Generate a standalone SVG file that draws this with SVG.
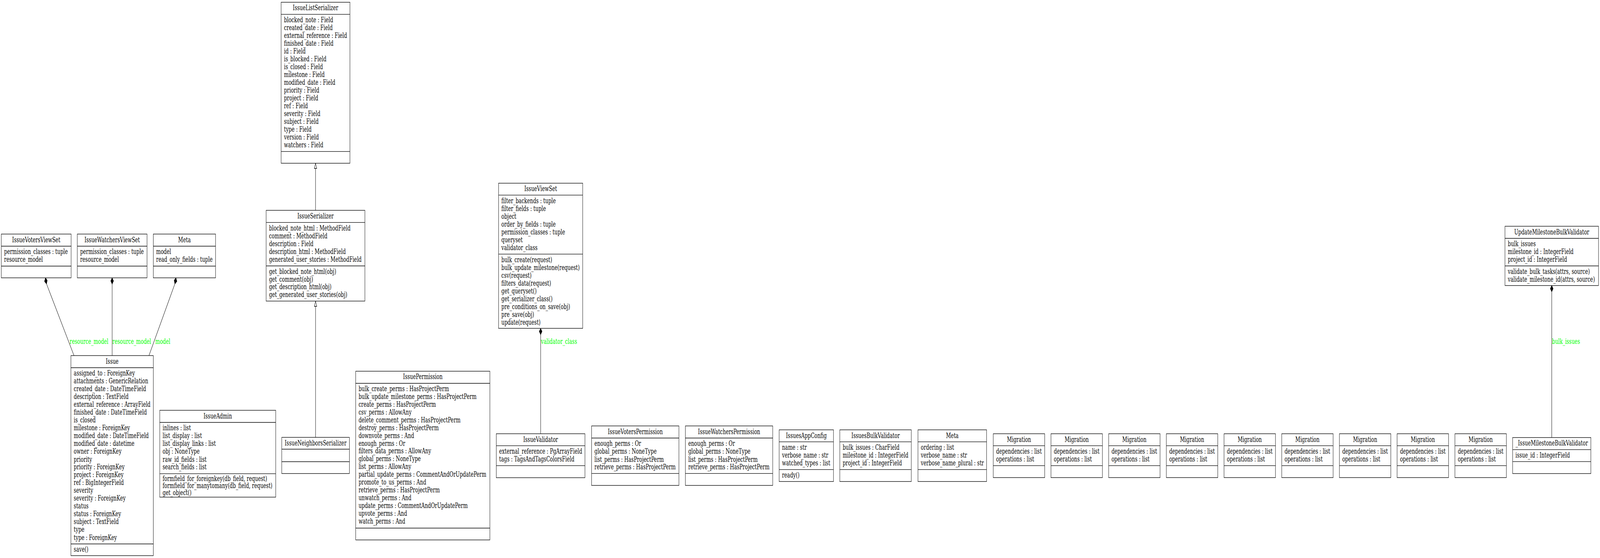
<svg xmlns="http://www.w3.org/2000/svg" width="6209" height="1428" viewBox="0 0 6209 1428" preserveAspectRatio="none">
<style>
svg{width:100vw;height:100vh}
text{font-family:"DejaVu Serif","Liberation Serif",serif;font-size:18.67px;fill:#000}
.t{text-anchor:middle}
.lbl{fill:#00ff00}
.box{fill:#fff;stroke:#000;stroke-width:1.33}
.sep{stroke:#000;stroke-width:1.33}
.edge{fill:none;stroke:#000;stroke-width:1.33}
.dia{fill:#000;stroke:#000;stroke-width:1.33}
.tri{fill:#fff;stroke:#000;stroke-width:1.33}
</style>
<rect width="6209" height="1428" fill="#fff"/>

<g id="connectors">
  <path class="edge" d="M1224.5,538.3 V431"/>
  <polygon class="tri" points="1224.5,417.7 1219.8,431 1229.2,431"/>
  <path class="edge" d="M1224.6,1119.3 V784"/>
  <polygon class="tri" points="1224.6,770.5 1219.9,784 1229.3,784"/>
  <polygon class="dia" points="176.5,711 183.2,717.4 180.5,726.5 172.8,720.1"/>
  <path class="edge" d="M180.5,726.5 L287.2,910"/>
  <polygon class="dia" points="435.2,711 440.5,719 435.2,727 429.9,719"/>
  <path class="edge" d="M435.2,727 V910"/>
  <polygon class="dia" points="682.7,711 686.4,720.1 678.6,726.5 676,717.4"/>
  <path class="edge" d="M678.6,726.5 L578,910"/>
  <polygon class="dia" points="2098,840.3 2103.3,848.3 2098,856.3 2092.7,848.3"/>
  <path class="edge" d="M2098,856.3 V1110"/>
  <polygon class="dia" points="6021.7,730.7 6027,738.7 6021.7,746.7 6016.4,738.7"/>
  <path class="edge" d="M6021.7,746.7 V1119.7"/>
  <text class="lbl" x="270.4" y="880">resource_model</text>
  <text class="lbl" x="436" y="880">resource_model</text>
  <text class="lbl" x="603" y="880">model</text>
  <text class="lbl" x="2099" y="880">validator_class</text>
  <text class="lbl" x="6023" y="880">bulk_issues</text>
</g>

<g id="IssueVotersViewSet">
  <rect class="box" x="5" y="599" width="271" height="112"/>
  <line class="sep" x1="5" y1="630" x2="276" y2="630"/>
  <line class="sep" x1="5" y1="681" x2="276" y2="681"/>
  <text class="t" x="140.5" y="620">IssueVotersViewSet</text>
  <text x="16" y="650.5">permission_classes : tuple</text>
  <text x="16" y="670.5">resource_model</text>
</g>

<g id="IssueWatchersViewSet">
  <rect class="box" x="300" y="599" width="270.5" height="112"/>
  <line class="sep" x1="300" y1="630" x2="570.5" y2="630"/>
  <line class="sep" x1="300" y1="681" x2="570.5" y2="681"/>
  <text class="t" x="435.25" y="620">IssueWatchersViewSet</text>
  <text x="311" y="650.5">permission_classes : tuple</text>
  <text x="311" y="670.5">resource_model</text>
</g>

<g id="Meta1">
  <rect class="box" x="595" y="599" width="241.5" height="112"/>
  <line class="sep" x1="595" y1="630" x2="836.5" y2="630"/>
  <line class="sep" x1="595" y1="681" x2="836.5" y2="681"/>
  <text class="t" x="715.75" y="620">Meta</text>
  <text x="606" y="650.5">model</text>
  <text x="606" y="670.5">read_only_fields : tuple</text>
</g>

<g id="Issue">
  <rect class="box" x="275.3" y="910" width="319.7" height="512"/>
  <line class="sep" x1="275.3" y1="941" x2="595" y2="941"/>
  <line class="sep" x1="275.3" y1="1392" x2="595" y2="1392"/>
  <text class="t" x="435.15" y="931">Issue</text>
  <text x="286.3" y="961.5">assigned_to : ForeignKey</text>
  <text x="286.3" y="981.5">attachments : GenericRelation</text>
  <text x="286.3" y="1001.5">created_date : DateTimeField</text>
  <text x="286.3" y="1021.5">description : TextField</text>
  <text x="286.3" y="1041.5">external_reference : ArrayField</text>
  <text x="286.3" y="1061.5">finished_date : DateTimeField</text>
  <text x="286.3" y="1081.5">is_closed</text>
  <text x="286.3" y="1101.5">milestone : ForeignKey</text>
  <text x="286.3" y="1121.5">modified_date : DateTimeField</text>
  <text x="286.3" y="1141.5">modified_date : datetime</text>
  <text x="286.3" y="1161.5">owner : ForeignKey</text>
  <text x="286.3" y="1181.5">priority</text>
  <text x="286.3" y="1201.5">priority : ForeignKey</text>
  <text x="286.3" y="1221.5">project : ForeignKey</text>
  <text x="286.3" y="1241.5">ref : BigIntegerField</text>
  <text x="286.3" y="1261.5">severity</text>
  <text x="286.3" y="1281.5">severity : ForeignKey</text>
  <text x="286.3" y="1301.5">status</text>
  <text x="286.3" y="1321.5">status : ForeignKey</text>
  <text x="286.3" y="1341.5">subject : TextField</text>
  <text x="286.3" y="1361.5">type</text>
  <text x="286.3" y="1381.5">type : ForeignKey</text>
  <text x="286.3" y="1412.5">save()</text>
</g>

<g id="IssueAdmin">
  <rect class="box" x="620" y="1050" width="450" height="222.3"/>
  <line class="sep" x1="620" y1="1081" x2="1070" y2="1081"/>
  <line class="sep" x1="620" y1="1212.3" x2="1070" y2="1212.3"/>
  <text class="t" x="845" y="1071">IssueAdmin</text>
  <text x="631" y="1101.5">inlines : list</text>
  <text x="631" y="1121.5">list_display : list</text>
  <text x="631" y="1141.5">list_display_links : list</text>
  <text x="631" y="1161.5">obj : NoneType</text>
  <text x="631" y="1181.5">raw_id_fields : list</text>
  <text x="631" y="1201.5">search_fields : list</text>
  <text x="631" y="1231.5">formfield_for_foreignkey(db_field, request)</text>
  <text x="631" y="1249.5">formfield_for_manytomany(db_field, request)</text>
  <text x="631" y="1267.5">get_object()</text>
</g>

<g id="IssueNeighborsSerializer">
  <rect class="box" x="1093.3" y="1119.3" width="262.7" height="92.5"/>
  <line class="sep" x1="1093.3" y1="1149.5" x2="1356" y2="1149.5"/>
  <line class="sep" x1="1093.3" y1="1181.5" x2="1356" y2="1181.5"/>
  <text class="t" x="1224.65" y="1140">IssueNeighborsSerializer</text>
</g>

<g id="IssueListSerializer">
  <rect class="box" x="1091" y="5.7" width="267" height="412"/>
  <line class="sep" x1="1091" y1="36.7" x2="1358" y2="36.7"/>
  <line class="sep" x1="1091" y1="387.7" x2="1358" y2="387.7"/>
  <text class="t" x="1224.5" y="26.5">IssueListSerializer</text>
  <text x="1102" y="57">blocked_note : Field</text>
  <text x="1102" y="77">created_date : Field</text>
  <text x="1102" y="97">external_reference : Field</text>
  <text x="1102" y="117">finished_date : Field</text>
  <text x="1102" y="137">id : Field</text>
  <text x="1102" y="157">is_blocked : Field</text>
  <text x="1102" y="177">is_closed : Field</text>
  <text x="1102" y="197">milestone : Field</text>
  <text x="1102" y="217">modified_date : Field</text>
  <text x="1102" y="237">priority : Field</text>
  <text x="1102" y="257">project : Field</text>
  <text x="1102" y="277">ref : Field</text>
  <text x="1102" y="297">severity : Field</text>
  <text x="1102" y="317">subject : Field</text>
  <text x="1102" y="337">type : Field</text>
  <text x="1102" y="357">version : Field</text>
  <text x="1102" y="377">watchers : Field</text>
</g>

<g id="IssueSerializer">
  <rect class="box" x="1032.7" y="538.3" width="383.3" height="232.2"/>
  <line class="sep" x1="1032.7" y1="569.3" x2="1416" y2="569.3"/>
  <line class="sep" x1="1032.7" y1="680.5" x2="1416" y2="680.5"/>
  <text class="t" x="1224.35" y="559.3">IssueSerializer</text>
  <text x="1044" y="590">blocked_note_html : MethodField</text>
  <text x="1044" y="610">comment : MethodField</text>
  <text x="1044" y="630">description : Field</text>
  <text x="1044" y="650">description_html : MethodField</text>
  <text x="1044" y="670">generated_user_stories : MethodField</text>
  <text x="1044" y="701.2">get_blocked_note_html(obj)</text>
  <text x="1044" y="720.7">get_comment(obj)</text>
  <text x="1044" y="740.2">get_description_html(obj)</text>
  <text x="1044" y="759.7">get_generated_user_stories(obj)</text>
</g>

<g id="IssuePermission">
  <rect class="box" x="1380.4" y="950" width="520.6" height="431.7"/>
  <line class="sep" x1="1380.4" y1="981" x2="1901" y2="981"/>
  <line class="sep" x1="1380.4" y1="1351.5" x2="1901" y2="1351.5"/>
  <text class="t" x="1640.7" y="970.5">IssuePermission</text>
  <text x="1391.4" y="1001">bulk_create_perms : HasProjectPerm</text>
  <text x="1391.4" y="1020.9">bulk_update_milestone_perms : HasProjectPerm</text>
  <text x="1391.4" y="1040.9">create_perms : HasProjectPerm</text>
  <text x="1391.4" y="1060.8">csv_perms : AllowAny</text>
  <text x="1391.4" y="1080.8">delete_comment_perms : HasProjectPerm</text>
  <text x="1391.4" y="1100.7">destroy_perms : HasProjectPerm</text>
  <text x="1391.4" y="1120.6">downvote_perms : And</text>
  <text x="1391.4" y="1140.6">enough_perms : Or</text>
  <text x="1391.4" y="1160.5">filters_data_perms : AllowAny</text>
  <text x="1391.4" y="1180.5">global_perms : NoneType</text>
  <text x="1391.4" y="1200.4">list_perms : AllowAny</text>
  <text x="1391.4" y="1220.3">partial_update_perms : CommentAndOrUpdatePerm</text>
  <text x="1391.4" y="1240.3">promote_to_us_perms : And</text>
  <text x="1391.4" y="1260.2">retrieve_perms : HasProjectPerm</text>
  <text x="1391.4" y="1280.2">unwatch_perms : And</text>
  <text x="1391.4" y="1300.1">update_perms : CommentAndOrUpdatePerm</text>
  <text x="1391.4" y="1320">upvote_perms : And</text>
  <text x="1391.4" y="1340">watch_perms : And</text>
</g>

<g id="IssueViewSet">
  <rect class="box" x="1934.7" y="468.8" width="326.6" height="371.5"/>
  <line class="sep" x1="1934.7" y1="499.3" x2="2261.3" y2="499.3"/>
  <line class="sep" x1="1934.7" y1="650.3" x2="2261.3" y2="650.3"/>
  <text class="t" x="2098" y="489.5">IssueViewSet</text>
  <text x="1945.7" y="519.8">filter_backends : tuple</text>
  <text x="1945.7" y="539.8">filter_fields : tuple</text>
  <text x="1945.7" y="559.8">object</text>
  <text x="1945.7" y="579.8">order_by_fields : tuple</text>
  <text x="1945.7" y="599.8">permission_classes : tuple</text>
  <text x="1945.7" y="619.8">queryset</text>
  <text x="1945.7" y="639.8">validator_class</text>
  <text x="1945.7" y="670.8">bulk_create(request)</text>
  <text x="1945.7" y="690.8">bulk_update_milestone(request)</text>
  <text x="1945.7" y="710.8">csv(request)</text>
  <text x="1945.7" y="730.8">filters_data(request)</text>
  <text x="1945.7" y="750.8">get_queryset()</text>
  <text x="1945.7" y="770.8">get_serializer_class()</text>
  <text x="1945.7" y="790.8">pre_conditions_on_save(obj)</text>
  <text x="1945.7" y="810.8">pre_save(obj)</text>
  <text x="1945.7" y="830.8">update(request)</text>
</g>

<g id="IssueValidator">
  <rect class="box" x="1925.9" y="1110" width="344" height="112.5"/>
  <line class="sep" x1="1925.9" y1="1140.7" x2="2269.9" y2="1140.7"/>
  <line class="sep" x1="1925.9" y1="1191.7" x2="2269.9" y2="1191.7"/>
  <text class="t" x="2097.9" y="1130.7">IssueValidator</text>
  <text x="1936.9" y="1161.2">external_reference : PgArrayField</text>
  <text x="1936.9" y="1181.2">tags : TagsAndTagsColorsField</text>
</g>

<g id="IssueVotersPermission">
  <rect class="box" x="2295.8" y="1090" width="338.8" height="152.3"/>
  <line class="sep" x1="2295.8" y1="1121" x2="2634.6" y2="1121"/>
  <line class="sep" x1="2295.8" y1="1211.7" x2="2634.6" y2="1211.7"/>
  <text class="t" x="2465.2" y="1111">IssueVotersPermission</text>
  <text x="2306.8" y="1141.5">enough_perms : Or</text>
  <text x="2306.8" y="1161.5">global_perms : NoneType</text>
  <text x="2306.8" y="1181.5">list_perms : HasProjectPerm</text>
  <text x="2306.8" y="1201.5">retrieve_perms : HasProjectPerm</text>
</g>

<g id="IssueWatchersPermission">
  <rect class="box" x="2659.8" y="1090" width="338.8" height="152.3"/>
  <line class="sep" x1="2659.8" y1="1121" x2="2998.6" y2="1121"/>
  <line class="sep" x1="2659.8" y1="1211.7" x2="2998.6" y2="1211.7"/>
  <text class="t" x="2829.2" y="1111">IssueWatchersPermission</text>
  <text x="2670.8" y="1141.5">enough_perms : Or</text>
  <text x="2670.8" y="1161.5">global_perms : NoneType</text>
  <text x="2670.8" y="1181.5">list_perms : HasProjectPerm</text>
  <text x="2670.8" y="1201.5">retrieve_perms : HasProjectPerm</text>
</g>

<g id="IssuesAppConfig">
  <rect class="box" x="3023.7" y="1100" width="210.8" height="132.3"/>
  <line class="sep" x1="3023.7" y1="1130.7" x2="3234.5" y2="1130.7"/>
  <line class="sep" x1="3023.7" y1="1201.7" x2="3234.5" y2="1201.7"/>
  <text class="t" x="3129.1" y="1121">IssuesAppConfig</text>
  <text x="3034.7" y="1151.2">name : str</text>
  <text x="3034.7" y="1171.2">verbose_name : str</text>
  <text x="3034.7" y="1191.2">watched_types : list</text>
  <text x="3034.7" y="1222.2">ready()</text>
</g>

<g id="IssuesBulkValidator">
  <rect class="box" x="3259" y="1100" width="277.4" height="132.3"/>
  <line class="sep" x1="3259" y1="1130.7" x2="3536.4" y2="1130.7"/>
  <line class="sep" x1="3259" y1="1201.7" x2="3536.4" y2="1201.7"/>
  <text class="t" x="3397.7" y="1121">IssuesBulkValidator</text>
  <text x="3270" y="1151.2">bulk_issues : CharField</text>
  <text x="3270" y="1171.2">milestone_id : IntegerField</text>
  <text x="3270" y="1191.2">project_id : IntegerField</text>
</g>

<g id="Meta2">
  <rect class="box" x="3562.3" y="1100" width="266.3" height="132.3"/>
  <line class="sep" x1="3562.3" y1="1130.7" x2="3828.6" y2="1130.7"/>
  <line class="sep" x1="3562.3" y1="1201.7" x2="3828.6" y2="1201.7"/>
  <text class="t" x="3695.45" y="1121">Meta</text>
  <text x="3573.3" y="1151.2">ordering : list</text>
  <text x="3573.3" y="1171.2">verbose_name : str</text>
  <text x="3573.3" y="1191.2">verbose_name_plural : str</text>
</g>

<g id="Migration1" transform="translate(3854.5,0)">
  <rect class="box" x="0" y="1110" width="199.5" height="112.3"/>
  <line class="sep" x1="0" y1="1140.7" x2="199.5" y2="1140.7"/>
  <line class="sep" x1="0" y1="1191.7" x2="199.5" y2="1191.7"/>
  <text class="t" x="99.75" y="1130.7">Migration</text>
  <text x="11" y="1161.2">dependencies : list</text>
  <text x="11" y="1181.2">operations : list</text>
</g>
<g id="Migration2" transform="translate(4078.5,0)">
  <rect class="box" x="0" y="1110" width="199.5" height="112.3"/>
  <line class="sep" x1="0" y1="1140.7" x2="199.5" y2="1140.7"/>
  <line class="sep" x1="0" y1="1191.7" x2="199.5" y2="1191.7"/>
  <text class="t" x="99.75" y="1130.7">Migration</text>
  <text x="11" y="1161.2">dependencies : list</text>
  <text x="11" y="1181.2">operations : list</text>
</g>
<g id="Migration3" transform="translate(4302.3,0)">
  <rect class="box" x="0" y="1110" width="199.5" height="112.3"/>
  <line class="sep" x1="0" y1="1140.7" x2="199.5" y2="1140.7"/>
  <line class="sep" x1="0" y1="1191.7" x2="199.5" y2="1191.7"/>
  <text class="t" x="99.75" y="1130.7">Migration</text>
  <text x="11" y="1161.2">dependencies : list</text>
  <text x="11" y="1181.2">operations : list</text>
</g>
<g id="Migration4" transform="translate(4526.2,0)">
  <rect class="box" x="0" y="1110" width="199.5" height="112.3"/>
  <line class="sep" x1="0" y1="1140.7" x2="199.5" y2="1140.7"/>
  <line class="sep" x1="0" y1="1191.7" x2="199.5" y2="1191.7"/>
  <text class="t" x="99.75" y="1130.7">Migration</text>
  <text x="11" y="1161.2">dependencies : list</text>
  <text x="11" y="1181.2">operations : list</text>
</g>
<g id="Migration5" transform="translate(4750.1,0)">
  <rect class="box" x="0" y="1110" width="199.5" height="112.3"/>
  <line class="sep" x1="0" y1="1140.7" x2="199.5" y2="1140.7"/>
  <line class="sep" x1="0" y1="1191.7" x2="199.5" y2="1191.7"/>
  <text class="t" x="99.75" y="1130.7">Migration</text>
  <text x="11" y="1161.2">dependencies : list</text>
  <text x="11" y="1181.2">operations : list</text>
</g>
<g id="Migration6" transform="translate(4973.9,0)">
  <rect class="box" x="0" y="1110" width="199.5" height="112.3"/>
  <line class="sep" x1="0" y1="1140.7" x2="199.5" y2="1140.7"/>
  <line class="sep" x1="0" y1="1191.7" x2="199.5" y2="1191.7"/>
  <text class="t" x="99.75" y="1130.7">Migration</text>
  <text x="11" y="1161.2">dependencies : list</text>
  <text x="11" y="1181.2">operations : list</text>
</g>
<g id="Migration7" transform="translate(5197.8,0)">
  <rect class="box" x="0" y="1110" width="199.5" height="112.3"/>
  <line class="sep" x1="0" y1="1140.7" x2="199.5" y2="1140.7"/>
  <line class="sep" x1="0" y1="1191.7" x2="199.5" y2="1191.7"/>
  <text class="t" x="99.75" y="1130.7">Migration</text>
  <text x="11" y="1161.2">dependencies : list</text>
  <text x="11" y="1181.2">operations : list</text>
</g>
<g id="Migration8" transform="translate(5421.7,0)">
  <rect class="box" x="0" y="1110" width="199.5" height="112.3"/>
  <line class="sep" x1="0" y1="1140.7" x2="199.5" y2="1140.7"/>
  <line class="sep" x1="0" y1="1191.7" x2="199.5" y2="1191.7"/>
  <text class="t" x="99.75" y="1130.7">Migration</text>
  <text x="11" y="1161.2">dependencies : list</text>
  <text x="11" y="1181.2">operations : list</text>
</g>
<g id="Migration9" transform="translate(5646.1,0)">
  <rect class="box" x="0" y="1110" width="199.5" height="112.3"/>
  <line class="sep" x1="0" y1="1140.7" x2="199.5" y2="1140.7"/>
  <line class="sep" x1="0" y1="1191.7" x2="199.5" y2="1191.7"/>
  <text class="t" x="99.75" y="1130.7">Migration</text>
  <text x="11" y="1161.2">dependencies : list</text>
  <text x="11" y="1181.2">operations : list</text>
</g>

<g id="UpdateMilestoneBulkValidator">
  <rect class="box" x="5840.3" y="579" width="362.9" height="151.7"/>
  <line class="sep" x1="5840.3" y1="610" x2="6203.2" y2="610"/>
  <line class="sep" x1="5840.3" y1="680.5" x2="6203.2" y2="680.5"/>
  <text class="t" x="6021.75" y="600">UpdateMilestoneBulkValidator</text>
  <text x="5851.3" y="630.5">bulk_issues</text>
  <text x="5851.3" y="650.5">milestone_id : IntegerField</text>
  <text x="5851.3" y="670.5">project_id : IntegerField</text>
  <text x="5851.3" y="701">validate_bulk_tasks(attrs, source)</text>
  <text x="5851.3" y="721">validate_milestone_id(attrs, source)</text>
</g>

<g id="IssueMilestoneBulkValidator">
  <rect class="box" x="5869.9" y="1119.7" width="303.7" height="92.2"/>
  <line class="sep" x1="5869.9" y1="1150.6" x2="6173.6" y2="1150.6"/>
  <line class="sep" x1="5869.9" y1="1181.3" x2="6173.6" y2="1181.3"/>
  <text class="t" x="6021.75" y="1140.5">_IssueMilestoneBulkValidator</text>
  <text x="5880.9" y="1171.2">issue_id : IntegerField</text>
</g>
</svg>
